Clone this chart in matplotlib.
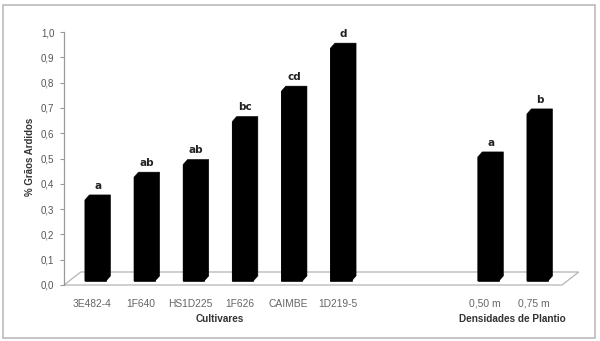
import numpy as np
import matplotlib.pyplot as plt
from matplotlib.patches import Polygon, Rectangle

# dados
cultivares = ["3E482-4", "1F640", "HS1D225", "1F626", "CAIMBE", "1D219-5"]
densidades = ["0,50 m", "0,75 m"]
valores_cult = [0.32, 0.41, 0.46, 0.63, 0.75, 0.92]
valores_dens = [0.49, 0.66]
letras_cult = ["a", "ab", "ab", "bc", "cd", "d"]
letras_dens = ["a", "b"]

rotulos = cultivares + densidades
valores = valores_cult + valores_dens
letras = letras_cult + letras_dens
pos = np.array([0, 1, 2, 3, 4, 5, 8, 9], dtype=float)

plt.rcParams["font.family"] = ["Liberation Sans", "DejaVu Sans"]

fig = plt.figure(figsize=(6, 3.41), dpi=100)
ax = fig.add_axes([64 / 600, 1 - 285 / 341, 498 / 600, 253 / 341])

xl, xr = -0.57, 9.57
ax.set_xlim(xl, xr)
ax.set_ylim(0, 1.0)

# "piso" 3D
fdx, fdy = 0.34, 0.0514
piso = Polygon([(xl, 0), (xr, 0), (xr + fdx, fdy), (xl + fdx, fdy)],
               closed=True, facecolor="white", edgecolor="#b4b4b4",
               lw=0.9, clip_on=False, zorder=1)
ax.add_patch(piso)

# barras com efeito 3D
base = 0.016
larg = 0.43
bdx, bdy = 0.092, 0.02
for x, v, l in zip(pos, valores, letras):
    x0 = x + 0.07 - larg / 2
    x1 = x + 0.07 + larg / 2
    ax.bar(x + 0.07, v, width=larg, bottom=base, color="black",
           edgecolor="black", lw=0.4, zorder=3)
    topo = base + v
    ax.add_patch(Polygon([(x0, base), (x0, topo), (x0 + bdx, topo + bdy),
                          (x1 + bdx, topo + bdy), (x1 + bdx, base + bdy), (x1, base)],
                         closed=True, facecolor="black", edgecolor="black",
                         lw=0.4, zorder=3, clip_on=False))
    ax.text(x + 0.07 + bdx / 2, topo + bdy + 0.016, l, ha="center", va="bottom",
            fontsize=7.5, fontweight="bold", color="#222222",
            family=["DejaVu Sans"])

# eixos
for s in ["top", "right", "bottom"]:
    ax.spines[s].set_visible(False)
ax.spines["left"].set_color("#999999")
ax.spines["left"].set_linewidth(0.9)
ax.set_yticks(np.arange(0, 1.01, 0.1))
ax.set_yticklabels([f"{t:.1f}".replace(".", ",") for t in np.arange(0, 1.01, 0.1)])
ax.tick_params(axis="y", length=3, color="#999999", labelsize=7,
               labelcolor="#555555", pad=4)
ax.set_xticks(pos)
ax.set_xticklabels(rotulos)
ax.tick_params(axis="x", length=0, labelsize=7.4, labelcolor="#666666", pad=10)

fig.text(30 / 600, 1 - 157 / 341, "% Grãos Ardidos", rotation=90,
         ha="center", va="center", fontsize=7, fontweight="bold", color="#333333")
fig.text(220 / 600, 1 - 319 / 341, "Cultivares", ha="center", va="center",
         fontsize=7.2, fontweight="bold", color="#333333")
fig.text(512 / 600, 1 - 319 / 341, "Densidades de Plantio", ha="center",
         va="center", fontsize=7.2, fontweight="bold", color="#333333")

# moldura
fig.patches.append(Rectangle((3 / 600, 3 / 341), 592 / 600, 333 / 341,
                             transform=fig.transFigure, fill=False,
                             edgecolor="#bbbbbb", lw=1.2))

plt.savefig("out.png", dpi=100)
